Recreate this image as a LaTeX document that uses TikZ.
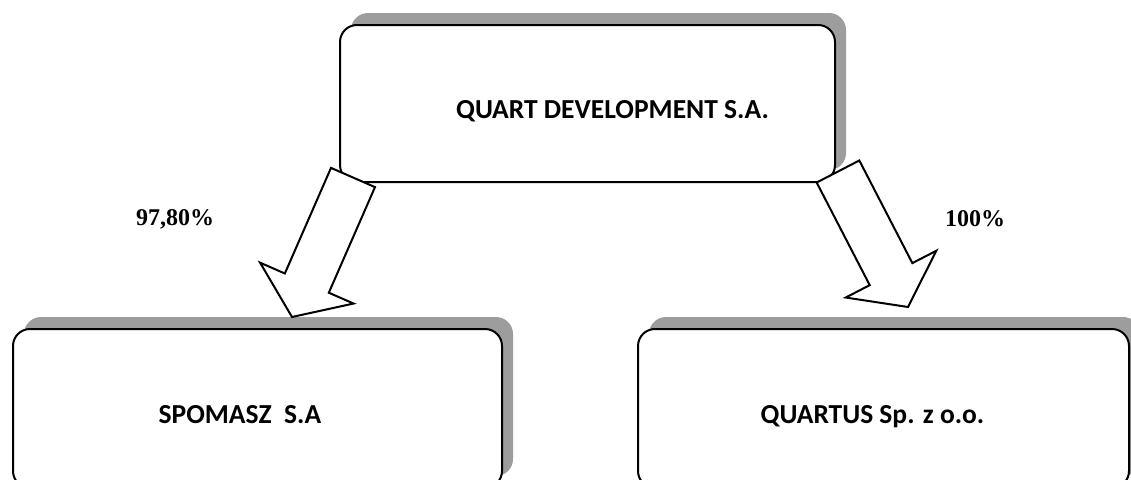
\documentclass[tikz,border=0pt]{standalone}
\usepackage{fontspec}
\usepackage{tikz}
\usetikzlibrary{calc,shadows}
\newfontfamily\orgfont{Carlito}
\newfontfamily\pctfont{Liberation Serif}
\definecolor{shadegrey}{HTML}{9D9D9D}
% hollow block arrow from #1 (tail centre) to #2 (tip)
\newcommand{\blockarrow}[2]{%
  \draw[barrow] ($(#1)!24pt!90:(#2)$) -- ($(#2)!37pt!(#1)!24pt!-90:(#1)$)
    -- ($(#2)!37pt!(#1)!51pt!-90:(#1)$) -- (#2)
    -- ($(#2)!37pt!(#1)!51pt!90:(#1)$) -- ($(#2)!37pt!(#1)!24pt!90:(#1)$)
    -- ($(#1)!24pt!-90:(#2)$) -- cycle;}

\begin{document}
\begin{tikzpicture}[x=1pt,y=-1pt,
  org/.style={draw,line width=2pt,fill=white,rounded corners=17pt,
    drop shadow={shadow xshift=11pt,shadow yshift=12pt,fill=shadegrey,opacity=1}},
  orgtxt/.style={font=\orgfont\bfseries\fontsize{27.5}{32}\selectfont,anchor=base,inner sep=0pt},
  pct/.style={font=\pctfont\bfseries\fontsize{24}{28}\selectfont,anchor=base,inner sep=0pt},
  barrow/.style={draw,line width=2pt,fill=white,line join=miter}]
  \useasboundingbox (0,0) rectangle (1131,479);

  % companies
  \node[org,minimum width=495pt,minimum height=157pt] (quart) at (587.5,103.5) {};
  \node[org,minimum width=489pt,minimum height=159pt] (spomasz) at (257.5,408.5) {};
  \node[org,minimum width=491pt,minimum height=159pt] (quartus) at (883.5,408.5) {};
  \node[orgtxt] (quartLbl) at ([shift={(25,14.5)}]quart.center) {QUART DEVELOPMENT S.A.};
  \node[orgtxt] (spomaszLbl) at ([shift={(-17.5,14.5)}]spomasz.center) {SPOMASZ\ \ S.A};
  \node[orgtxt] (quartusLbl) at ([shift={(-11,14.5)}]quartus.center) {QUARTUS Sp. z o.o.};

  % shares
  \coordinate (tailL) at (353,177.5);
  \coordinate (tipL) at (292,317);
  \coordinate (tailR) at (838,171.5);
  \coordinate (tipR) at (908,307);
  \blockarrow{tailL}{tipL}
  \blockarrow{tailR}{tipR}
  \node[pct] (pctL) at (175,225) {97,80\%};
  \node[pct] (pctR) at (975,226) {100\%};
\end{tikzpicture}
\end{document}
